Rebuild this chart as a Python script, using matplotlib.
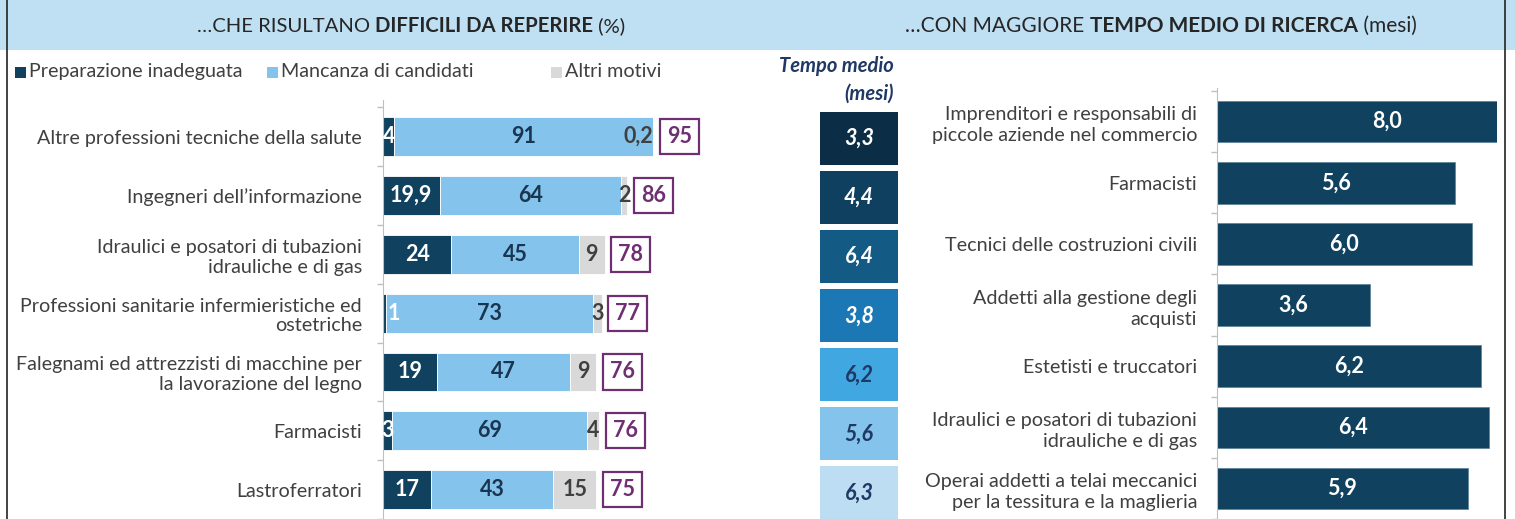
import matplotlib
matplotlib.use("Agg")
import matplotlib.pyplot as plt
from matplotlib.patches import Rectangle
from matplotlib.lines import Line2D

plt.rcParams['font.family'] = ['Lato', 'DejaVu Sans']

# --- data ---
prof_left = ["Altre professioni tecniche della salute",
             "Ingegneri dell\u2019informazione",
             "Idraulici e posatori di tubazioni\nidrauliche e di gas",
             "Professioni sanitarie infermieristiche ed\nostetriche",
             "Falegnami ed attrezzisti di macchine per\nla lavorazione del legno",
             "Farmacisti",
             "Lastroferratori"]
prep = [4, 19.9, 24, 1, 19, 3, 17]
manc = [91, 64, 45, 73, 47, 69, 43]
altri = [0.2, 2, 9, 3, 9, 4, 15]
totale = [95, 86, 78, 77, 76, 76, 75]
tempo_medio = [3.3, 4.4, 6.4, 3.8, 6.2, 5.6, 6.3]

prof_right = ["Imprenditori e responsabili di\npiccole aziende nel commercio",
              "Farmacisti",
              "Tecnici delle costruzioni civili",
              "Addetti alla gestione degli\nacquisti",
              "Estetisti e truccatori",
              "Idraulici e posatori di tubazioni\nidrauliche e di gas",
              "Operai addetti a telai meccanici\nper la tessitura e la maglieria"]
mesi = [8.0, 5.6, 6.0, 3.6, 6.2, 6.4, 5.9]

legend_labels = ["Preparazione inadeguata", "Mancanza di candidati", "Altri motivi"]

# --- colours ---
c_dark = '#10425F'
c_light = '#83C3EC'
c_gray = '#D9D9D9'
c_purple = '#6E2F73'
c_text = '#404040'
c_navy = '#1F3864'
band = '#BFDFF3'
box_cols = ['#0B2D45', '#0F4060', '#135A85', '#1B78B4', '#41A7E1', '#83C3EC', '#BDDDF2']

W, H = 1515, 519
fig = plt.figure(figsize=(W / 100, H / 100), dpi=100)

PX = 72 / 100  # points per pixel
fs_lab = 14.2
fs_val = 15.5


def fx(px):
    return px / W


def fy(py):
    return 1 - py / H


def fmt(v, dec=False):
    if not dec and float(v).is_integer():
        return f"{int(v)}"
    return f"{v:.1f}".replace('.', ',')


# header band and frame
fig.patches.append(Rectangle((0, fy(50)), 1, 50 / H, transform=fig.transFigure,
                             fc=band, ec='none', zorder=0))
for xb in (7, 1505):
    fig.lines.append(Line2D([fx(xb), fx(xb)], [0, 1], transform=fig.transFigure,
                            color='#222222', lw=1.2))

renderer = fig.canvas.get_renderer()


def mixed_title(parts, cx, base_y, size=14.6):
    texts = []
    for s, w in parts:
        t = fig.text(0, fy(base_y), s, fontsize=size, fontweight=w, color='#262626',
                     va='baseline', ha='left')
        texts.append(t)
    widths = [t.get_window_extent(renderer).width for t in texts]
    x = cx - sum(widths) / 2
    for t, w in zip(texts, widths):
        t.set_x(fx(x))
        x += w


mixed_title([("\u2026CHE RISULTANO ", 'normal'), ("DIFFICILI DA REPERIRE", 'bold'),
             (" (%)", 'normal')], 411, 32)
mixed_title([("\u2026CON MAGGIORE ", 'normal'), ("TEMPO MEDIO DI RICERCA", 'bold'),
             (" (mesi)", 'normal')], 1161, 32, size=15)

# legend
for xs, col, lab in zip([15, 267, 551], [c_dark, c_light, c_gray], legend_labels):
    fig.patches.append(Rectangle((fx(xs), fy(78)), 11 / W, 11 / H,
                                 transform=fig.transFigure, fc=col, ec='none'))
    fig.text(fx(xs + 14), fy(72), lab, fontsize=fs_lab, color=c_text, va='center', ha='left')

# --- left stacked bars ---
ax = fig.add_axes([fx(383), 0, 284 / W, (H - 100) / H])
ax.set_xlim(0, 100)
ax.set_ylim(6.44, -0.624)
y = list(range(len(prof_left)))
bh = 0.66
ax.barh(y, prep, height=bh, color=c_dark, edgecolor='white', lw=0.6)
ax.barh(y, manc, left=prep, height=bh, color=c_light, edgecolor='white', lw=0.6)
left3 = [a + b for a, b in zip(prep, manc)]
ax.barh(y, altri, left=left3, height=bh, color=c_gray, edgecolor='white', lw=0.6)

for i in y:
    if prep[i] < 2:
        ax.text(prep[i] + 0.6, i, fmt(prep[i]), ha='left', va='center', color='white',
                fontsize=fs_val, fontweight='bold')
    else:
        ax.text(prep[i] / 2, i, fmt(prep[i]), ha='center', va='center', color='white',
                fontsize=fs_val, fontweight='bold')
    ax.text(prep[i] + manc[i] / 2, i, fmt(manc[i]), ha='center', va='center',
            color='#1A3550', fontsize=fs_val, fontweight='bold')
    if altri[i] < 1:
        ax.text(left3[i] + altri[i], i, fmt(altri[i]), ha='right', va='center',
                color=c_text, fontsize=fs_val, fontweight='bold')
    else:
        ax.text(left3[i] + altri[i] / 2, i, fmt(altri[i]), ha='center', va='center',
                color=c_text, fontsize=fs_val, fontweight='bold')
    end = left3[i] + altri[i]
    ax.add_patch(Rectangle((end + 2.4, i - 0.3), 13.7, 0.6, fc='white', ec=c_purple,
                           lw=1.6, clip_on=False))
    ax.text(end + 2.4 + 13.7 / 2, i, fmt(totale[i]), ha='center', va='center',
            color=c_purple, fontsize=fs_val, fontweight='bold', clip_on=False)

ax.set_yticks(y)
ax.set_yticklabels(prof_left, fontsize=fs_lab, color=c_text, multialignment='right',
                   linespacing=1.2)
ax.tick_params(axis='y', which='major', length=0, pad=21 * PX)
ax.set_yticks([i - 0.5 for i in range(len(prof_left) + 1)], minor=True)
ax.tick_params(axis='y', which='minor', length=6 * PX, color='#BFBFBF', width=1)
ax.set_xticks([])
for s in ['top', 'right', 'bottom']:
    ax.spines[s].set_visible(False)
ax.spines['left'].set_color('#BFBFBF')
ax.patch.set_alpha(0)

# --- middle column: tempo medio ---
fig.text(fx(894), fy(66), "Tempo medio", fontsize=14.5, fontweight='bold', style='italic',
         color=c_navy, ha='right', va='center')
fig.text(fx(894), fy(94), "(mesi)", fontsize=14.5, fontweight='bold', style='italic',
         color=c_navy, ha='right', va='center')
axm = fig.add_axes([fx(820), 0, 78 / W, (H - 100) / H])
axm.set_xlim(0, 1)
axm.set_ylim(6.44, -0.65)
axm.barh(y, [1] * len(y), height=0.9, color=box_cols)
for i in y:
    axm.text(0.5, i, fmt(tempo_medio[i], True), ha='center', va='center', fontsize=fs_val,
             fontweight='bold', style='italic', color='white' if i < 4 else c_navy)
axm.axis('off')

# --- right bars ---
axr = fig.add_axes([fx(1217), 0, 280 / W, (H - 88) / H])
axr.set_xlim(0, 280 / 42.5)
axr.set_ylim(6.43, -0.55)
axr.barh(y, mesi, height=0.68, color=c_dark, edgecolor='#5A7F99', lw=0.5)
for i in y:
    axr.text(mesi[i] / 2, i, fmt(mesi[i], True), ha='center', va='center', color='white',
             fontsize=fs_val, fontweight='bold')
axr.set_yticks(y)
axr.set_yticklabels(prof_right, fontsize=fs_lab, color=c_text, multialignment='right',
                    linespacing=1.3)
axr.tick_params(axis='y', which='major', length=0, pad=20 * PX)
axr.set_yticks([i - 0.5 for i in range(len(prof_right) + 1)], minor=True)
axr.tick_params(axis='y', which='minor', length=6 * PX, color='#BFBFBF', width=1)
axr.set_xticks([])
for s in ['top', 'right', 'bottom']:
    axr.spines[s].set_visible(False)
axr.spines['left'].set_color('#BFBFBF')
axr.patch.set_alpha(0)

fig.savefig('out.png', dpi=100)
